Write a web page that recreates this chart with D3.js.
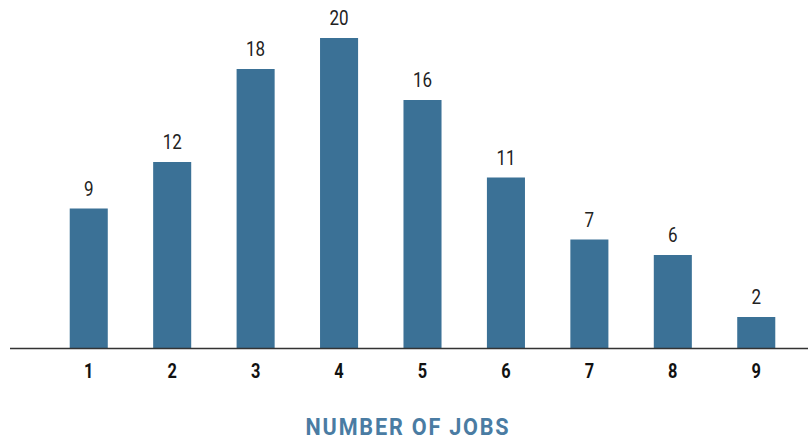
<!DOCTYPE html>
<html>

<head>
    <meta charset="utf-8" />
    <style>
        body {
            margin: 0;
            background-color: white;
        }
    </style>
    <script src="https://d3js.org/d3.v7.min.js"></script>
</head>

<body>
    <script>
        var jobs = ["1", "2", "3", "4", "5", "6", "7", "8", "9"];
        var counts = [9, 12, 18, 20, 16, 11, 7, 6, 2];
        var axisTitle = "NUMBER OF JOBS";

        var width = 809,
            height = 439;

        var barColor = "#3b7196",
            titleColor = "#4a7ca3";

        var svg = d3.select("body").append("svg")
            .attr("width", width)
            .attr("height", height);

        var x = d3.scaleBand()
            .domain(jobs)
            .range([28, 817])
            .paddingInner(0.544)
            .paddingOuter(0.5);

        var y = d3.scaleLinear()
            .domain([0, 20])
            .range([348, 38]);

        var data = jobs.map(function (j, i) { return { job: j, count: counts[i] }; });

        // bars
        svg.selectAll("rect.bar")
            .data(data)
            .enter().append("rect")
            .attr("class", "bar")
            .attr("x", function (d) { return x(d.job); })
            .attr("y", function (d) { return y(d.count); })
            .attr("width", x.bandwidth())
            .attr("height", function (d) { return y(0) - y(d.count); })
            .attr("fill", barColor);

        // value labels (condensed look via horizontal squeeze)
        svg.selectAll("text.value")
            .data(data)
            .enter().append("text")
            .attr("class", "value")
            .attr("transform", function (d) {
                return "translate(" + (x(d.job) + x.bandwidth() / 2) + "," + (y(d.count) - 13) + ") scale(0.85,1)";
            })
            .attr("text-anchor", "middle")
            .style("font-family", "Roboto, sans-serif")
            .style("font-size", "20px")
            .style("fill", "#222")
            .text(function (d) { return d.count; });

        // baseline
        svg.append("line")
            .attr("x1", 10)
            .attr("x2", 808)
            .attr("y1", y(0) + 0.5)
            .attr("y2", y(0) + 0.5)
            .attr("stroke", "#333")
            .attr("stroke-width", 1.5);

        // category labels
        svg.selectAll("text.tick")
            .data(jobs)
            .enter().append("text")
            .attr("class", "tick")
            .attr("transform", function (d) {
                return "translate(" + (x(d) + x.bandwidth() / 2) + ",378) scale(0.82,1)";
            })
            .attr("text-anchor", "middle")
            .style("font-family", "Roboto, sans-serif")
            .style("font-weight", "bold")
            .style("font-size", "20px")
            .style("fill", "#111")
            .text(function (d) { return d; });

        // axis title
        svg.append("text")
            .attr("transform", "translate(408,435) scale(0.9,1)")
            .attr("text-anchor", "middle")
            .style("font-family", "Roboto, sans-serif")
            .style("font-weight", "bold")
            .style("font-size", "24px")
            .style("letter-spacing", "2px")
            .style("fill", titleColor)
            .text(axisTitle);
    </script>
</body>

</html>
